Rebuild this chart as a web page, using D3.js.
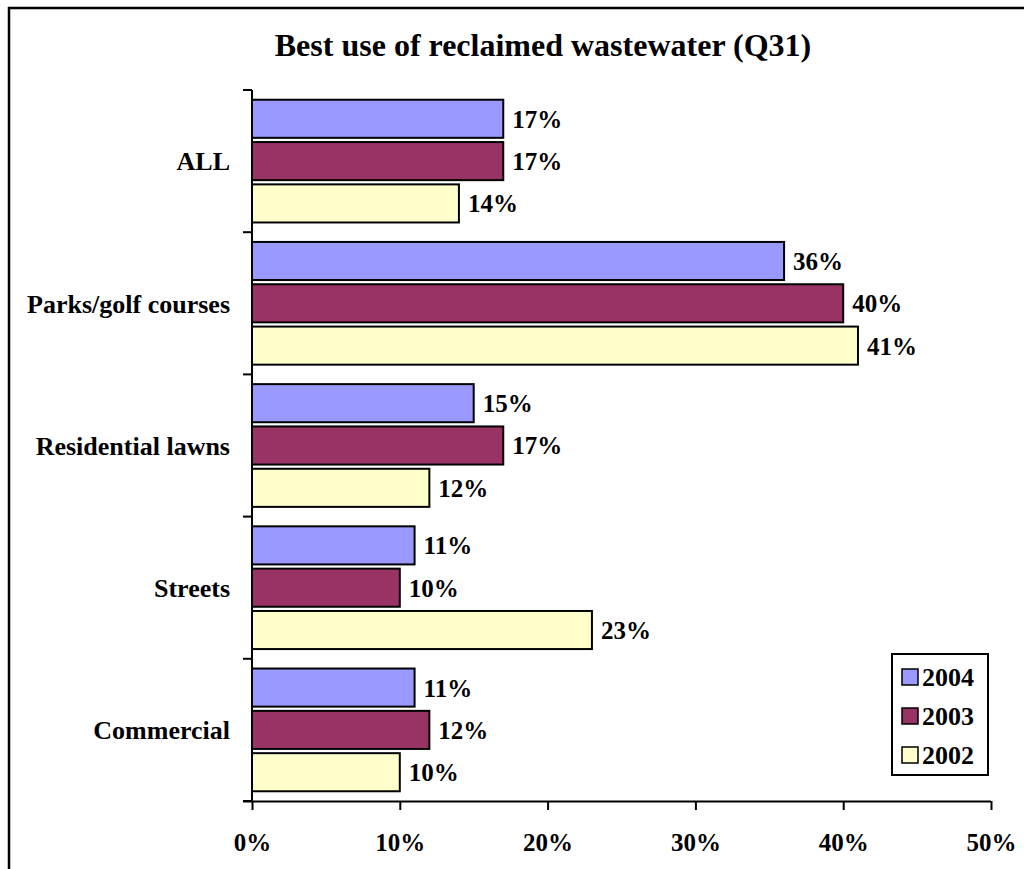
<!DOCTYPE html>
<html>
<head>
<meta charset="utf-8">
<script src="https://cdn.jsdelivr.net/npm/d3@7"></script>
<style>
  html, body { margin: 0; padding: 0; background: #fff; }
  svg { display: block; }
  text { font-family: "Liberation Serif", "Times New Roman", serif; font-weight: bold; fill: #000; }
</style>
</head>
<body>
<svg id="chart" width="1024" height="869"></svg>
<script>
// Survey categories (top to bottom) and yearly series
const categories = ["ALL", "Parks/golf courses", "Residential lawns", "Streets", "Commercial"];
const seriesNames = ["2004", "2003", "2002"];
const values2004 = [17, 36, 15, 11, 11];
const values2003 = [17, 40, 17, 10, 12];
const values2002 = [14, 41, 12, 23, 10];
const xTicks = [0, 10, 20, 30, 40, 50];
const seriesColors = ["#9999FF", "#993366", "#FFFFCC"];
const titleText = "Best use of reclaimed wastewater (Q31)";

const seriesValues = [values2004, values2003, values2002];
const rows = categories.map((c, i) => ({
  category: c,
  bars: seriesNames.map((s, j) => ({ series: s, value: seriesValues[j][i], color: seriesColors[j] }))
}));

const svg = d3.select("#chart");

// Outer frame
svg.append("rect")
  .attr("x", 9).attr("y", 8)
  .attr("width", 1040).attr("height", 900)
  .attr("fill", "none").attr("stroke", "#000").attr("stroke-width", 2.5);

// Title
svg.append("text")
  .attr("x", 543).attr("y", 56)
  .attr("text-anchor", "middle")
  .style("font-size", "32px")
  .text(titleText);

const plot = { left: 252, right: 991, top: 90, bottom: 801 };

const x = d3.scaleLinear().domain([0, 50]).range([plot.left, plot.right]);
const y0 = d3.scaleBand().domain(categories).range([plot.top, plot.bottom]).padding(0);
const y1 = d3.scaleBand().domain(seriesNames).range([0, y0.bandwidth()])
  .paddingInner(0.1).paddingOuter(0.23);

// Bars
const groups = svg.append("g").selectAll("g")
  .data(rows).join("g")
  .attr("transform", d => `translate(0,${y0(d.category)})`);

groups.selectAll("rect")
  .data(d => d.bars).join("rect")
  .attr("x", x(0))
  .attr("y", d => y1(d.series))
  .attr("width", d => x(d.value) - x(0))
  .attr("height", y1.bandwidth())
  .attr("fill", d => d.color)
  .attr("stroke", "#000")
  .attr("stroke-width", 2);

// Value labels
groups.selectAll("text.val")
  .data(d => d.bars).join("text")
  .attr("class", "val")
  .attr("x", d => x(d.value) + 9)
  .attr("y", d => y1(d.series) + y1.bandwidth() / 2)
  .attr("dy", "0.36em")
  .style("font-size", "25px")
  .text(d => d.value + "%");

// Y axis: boundary ticks between categories
const boundaries = categories.map(c => y0(c)).concat([plot.bottom]);
const yAxis = svg.append("g");
yAxis.append("line")
  .attr("x1", plot.left).attr("x2", plot.left)
  .attr("y1", plot.top).attr("y2", plot.bottom)
  .attr("stroke", "#000").attr("stroke-width", 2);
yAxis.selectAll("line.tick")
  .data(boundaries).join("line")
  .attr("class", "tick")
  .attr("x1", plot.left - 9).attr("x2", plot.left)
  .attr("y1", d => d).attr("y2", d => d)
  .attr("stroke", "#000").attr("stroke-width", 2);
yAxis.selectAll("text")
  .data(categories).join("text")
  .attr("x", plot.left - 22)
  .attr("y", d => y0(d) + y0.bandwidth() / 2)
  .attr("dy", "0.36em")
  .attr("text-anchor", "end")
  .style("font-size", "26px")
  .text(d => d);

// X axis
const xAxis = svg.append("g")
  .attr("transform", `translate(0,${plot.bottom})`)
  .call(d3.axisBottom(x).tickValues(xTicks).tickFormat(d => d + "%").tickSize(9).tickPadding(23));
xAxis.select(".domain").attr("stroke", "#000").attr("stroke-width", 2)
  .attr("d", `M${plot.left - 9},0.5H${plot.right}`);
xAxis.selectAll(".tick line").attr("stroke", "#000").attr("stroke-width", 2);
xAxis.selectAll(".tick text")
  .style("font-family", "'Liberation Serif', 'Times New Roman', serif")
  .style("font-weight", "bold")
  .style("font-size", "25px")
  .attr("fill", "#000");

// Legend
const legend = svg.append("g").attr("transform", "translate(892,654)");
legend.append("rect")
  .attr("width", 96).attr("height", 121)
  .attr("fill", "#fff").attr("stroke", "#000").attr("stroke-width", 2);
const items = legend.selectAll("g.item")
  .data(seriesNames.map((s, j) => ({ name: s, color: seriesColors[j] })))
  .join("g").attr("class", "item")
  .attr("transform", (d, i) => `translate(0,${23 + i * 39})`);
items.append("rect")
  .attr("x", 10).attr("y", -8)
  .attr("width", 16).attr("height", 16)
  .attr("fill", d => d.color).attr("stroke", "#000").attr("stroke-width", 1.5);
items.append("text")
  .attr("x", 30).attr("dy", "0.36em")
  .style("font-size", "26px")
  .text(d => d.name);
</script>
</body>
</html>
